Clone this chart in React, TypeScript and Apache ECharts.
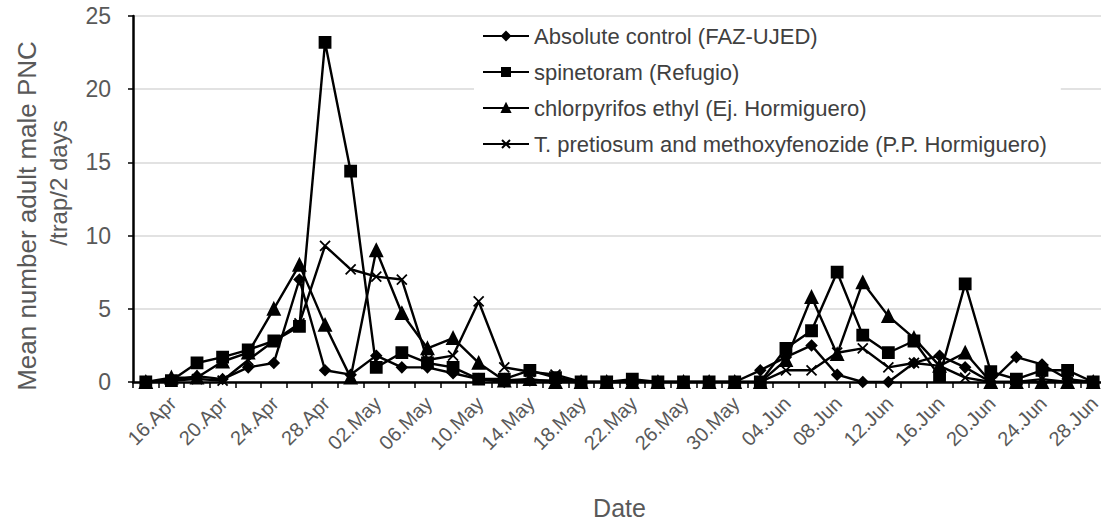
import React, { useEffect, useRef } from "react";
import * as echarts from "echarts";

const dates = [
  "16.Apr", "18.Apr", "20.Apr", "22.Apr", "24.Apr", "26.Apr", "28.Apr", "30.Apr",
  "02.May", "04.May", "06.May", "08.May", "10.May", "12.May", "14.May", "16.May",
  "18.May", "20.May", "22.May", "24.May", "26.May", "28.May", "30.May", "02.Jun",
  "04.Jun", "06.Jun", "08.Jun", "10.Jun", "12.Jun", "14.Jun", "16.Jun", "18.Jun",
  "20.Jun", "22.Jun", "24.Jun", "26.Jun", "28.Jun", "30.Jun",
];

const absoluteControl = [
  0, 0.1, 0.4, 0.2, 1.0, 1.3, 7.0, 0.8, 0.5, 1.8, 1.0, 1.0, 0.6, 0.2, 0, 0.1,
  0.1, 0, 0, 0, 0, 0, 0, 0, 0.8, 1.7, 2.5, 0.5, 0, 0, 1.3, 1.8, 1.0, 0, 1.7, 1.2,
  0.2, 0,
];

const spinetoram = [
  0, 0.1, 1.3, 1.7, 2.2, 2.8, 3.8, 23.2, 14.4, 1.0, 2.0, 1.3, 1.0, 0.2, 0.2, 0.8,
  0.3, 0, 0, 0.2, 0, 0, 0, 0, 0, 2.3, 3.5, 7.5, 3.2, 2.0, 2.8, 0.4, 6.7, 0.7, 0.2,
  0.8, 0.8, 0,
];

const chlorpyrifos = [
  0, 0.3, 0.3, 1.4, 2.0, 5.0, 8.0, 3.9, 0.3, 9.0, 4.7, 2.3, 3.0, 1.3, 0.1, 0.2,
  0, 0, 0, 0, 0, 0, 0, 0, 0, 1.5, 5.8, 1.9, 6.8, 4.5, 3.0, 1.1, 2.0, 0, 0, 0, 0, 0,
];

const pretiosum = [
  0, 0.1, 0.2, 0.1, 1.5, 2.8, 4.0, 9.3, 7.7, 7.2, 7.0, 1.5, 1.8, 5.5, 1.0, 0.7,
  0.5, 0, 0, 0, 0, 0, 0, 0, 0, 0.8, 0.8, 2.0, 2.3, 1.0, 1.3, 1.1, 0.3, 0, 0, 0.2,
  0, 0,
];

const seriesNames = [
  "Absolute control (FAZ-UJED)",
  "spinetoram (Refugio)",
  "chlorpyrifos ethyl (Ej. Hormiguero)",
  "T. pretiosum and methoxyfenozide (P.P. Hormiguero)",
];

const yTitleLines = ["Mean number adult male PNC", "/trap/2 days"];

const FONT = "'Liberation Sans', Arial, sans-serif";
const X_SYMBOL = "path://M0,0L10,10M10,0L0,10";

export default function App() {
  const ref = useRef<HTMLDivElement>(null);

  useEffect(() => {
    if (!ref.current) return;
    const chart = echarts.init(ref.current, undefined, { renderer: "svg" });

    const mk = (name: string, data: number[], symbol: string, size: number) => ({
      name,
      type: "line",
      data,
      symbol,
      symbolSize: size,
      showSymbol: true,
      lineStyle: { color: "#000", width: 2.4 },
      itemStyle: { color: "#000", borderColor: "#000", borderWidth: 1.8 },
      emphasis: { disabled: true },
      z: 3,
    });

    chart.setOption({
      animation: false,
      textStyle: { fontFamily: FONT },
      grid: {
        left: 133,
        right: -5,
        top: 16,
        bottom: 138,
        containLabel: false,
        outerBoundsMode: "none",
      },
      graphic: [
        {
          type: "text",
          x: 27,
          y: 216,
          rotation: Math.PI / 2,
          style: {
            text: yTitleLines[0],
            fontSize: 26,
            fontFamily: FONT,
            fill: "#595959",
            align: "center",
            verticalAlign: "middle",
          },
        },
        {
          type: "text",
          x: 58,
          y: 183,
          rotation: Math.PI / 2,
          style: {
            text: yTitleLines[1],
            fontSize: 24,
            fontFamily: FONT,
            fill: "#595959",
            align: "center",
            verticalAlign: "middle",
          },
        },
      ],
      legend: {
        orient: "vertical",
        left: 474,
        top: 21,
        itemWidth: 46,
        itemHeight: 10,
        itemGap: 14,
        backgroundColor: "#fff",
        padding: [4, 14, 4, 8],
        textStyle: { fontSize: 22, color: "#404040", fontFamily: FONT },
        data: seriesNames,
      },
      xAxis: {
        type: "category",
        data: dates,
        boundaryGap: true,
        name: "Date",
        nameLocation: "middle",
        nameGap: 113,
        nameTextStyle: { fontSize: 25, color: "#595959", fontFamily: FONT },
        axisLine: { lineStyle: { color: "#000", width: 2.5 } },
        axisTick: { show: true, interval: 0, length: 6, lineStyle: { color: "#000", width: 1.5 } },
        axisLabel: {
          interval: 1,
          rotate: 45,
          align: "right",
          verticalAlign: "top",
          margin: 8,
          padding: [16, -12, 0, 0],
          fontSize: 20,
          color: "#595959",
          fontFamily: FONT,
        },
        splitLine: { show: false },
      },
      yAxis: {
        type: "value",
        min: 0,
        max: 25,
        interval: 5,
        axisLine: { show: true, lineStyle: { color: "#000", width: 2.5 } },
        axisTick: { show: true, length: 5, lineStyle: { color: "#000", width: 1.5 } },
        axisLabel: { fontSize: 23, color: "#595959", margin: 22, fontFamily: FONT },
        splitLine: { show: true, lineStyle: { color: "#d9d9d9", width: 1.5 } },
      },
      series: [
        mk(seriesNames[0], absoluteControl, "diamond", 10),
        mk(seriesNames[1], spinetoram, "rect", 11),
        mk(seriesNames[2], chlorpyrifos, "triangle", 12),
        mk(seriesNames[3], pretiosum, X_SYMBOL, 10),
      ],
    });

    return () => chart.dispose();
  }, []);

  return (
    <div
      ref={ref}
      style={{ position: "absolute", left: 0, top: 0, width: 1101, height: 520, background: "#fff" }}
    />
  );
}
